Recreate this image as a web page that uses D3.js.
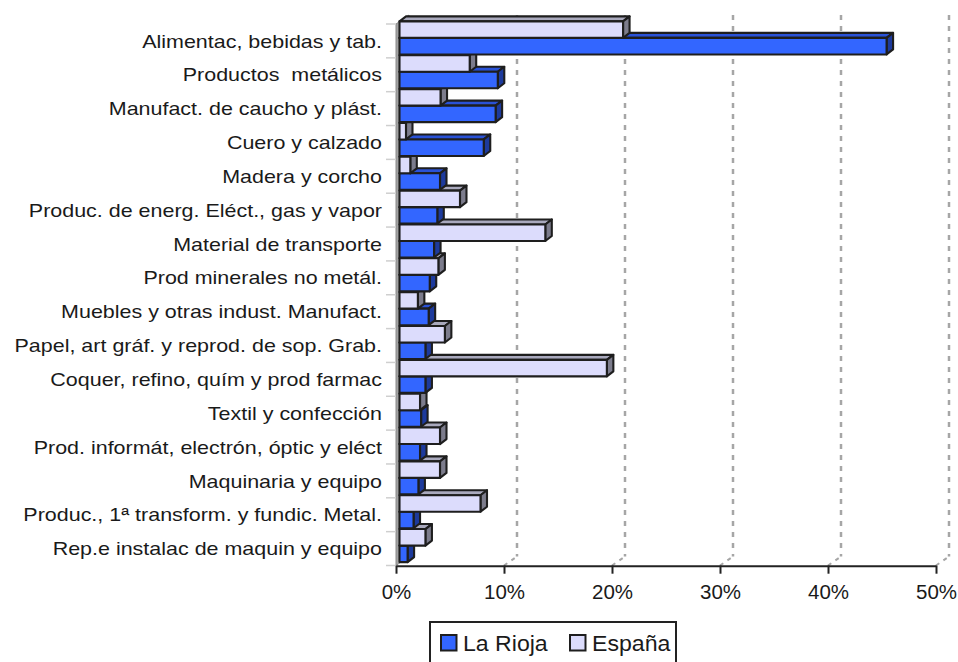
<!DOCTYPE html>
<html>
<head>
<meta charset="utf-8">
<script src="https://cdn.jsdelivr.net/npm/d3@7"></script>
<style>
  body { margin: 0; background: #fff; }
  text { font-family: "Liberation Sans", Arial, Helvetica, sans-serif; fill: #1a1a1a; }
</style>
</head>
<body>
<div id="chart"></div>
<script>
// sectors, top to bottom
const categories = [
    "Alimentac, bebidas y tab.",
    "Productos  metálicos",
    "Manufact. de caucho y plást.",
    "Cuero y calzado",
    "Madera y corcho",
    "Produc. de energ. Eléct., gas y vapor",
    "Material de transporte",
    "Prod minerales no metál.",
    "Muebles y otras indust. Manufact.",
    "Papel, art gráf. y reprod. de sop. Grab.",
    "Coquer, refino, quím y prod farmac",
    "Textil y confección",
    "Prod. informát, electrón, óptic y eléct",
    "Maquinaria y equipo",
    "Produc., 1ª transform. y fundic. Metal.",
    "Rep.e instalac de maquin y equipo"
]

const laRioja = [45.1, 9.1, 8.9, 7.8, 3.75, 3.5, 3.2, 2.8, 2.7, 2.4, 2.4, 2.0, 1.9, 1.75, 1.3, 0.75]
const espana = [20.7, 6.5, 3.8, 0.6, 1.0, 5.6, 13.5, 3.6, 1.7, 4.2, 19.2, 1.9, 3.75, 3.75, 7.5, 2.4]

const series = ["La Rioja", "España"]
const xTicks = [0, 10, 20, 30, 40, 50]

const width = 958
const height = 662

// plot front plane
const x = d3.scaleLinear().domain([0, 50]).range([396, 936])
const y = d3.scaleBand().domain(categories).range([24, 565.5])
// España sits above La Rioja inside each band
const ySub = d3.scaleBand().domain(["España", "La Rioja"]).range([0.4, y.bandwidth() - 0.4])

// 3d offsets
const wallDepth = [13, -9]
const barFront = [3.5, -3]
const barDepth = [6.5, -5]

const colors = {
    "La Rioja": { front: "#3366ff", top: "#2a52d6", side: "#1d3a9c" },
    "España": { front: "#dcdcfc", top: "#a9a9bd", side: "#7c7c8c" }
}

const svg = d3.select("#chart")
    .append("svg")
    .attr("width", width)
    .attr("height", height)

const yTop = y.range()[0]
const yBot = y.range()[1]

// gridlines on back wall + floor
const grid = svg.append("g")
xTicks.filter(d => d > 0).forEach(v => {
    grid.append("line")
        .attr("x1", x(v) + wallDepth[0]).attr("x2", x(v) + wallDepth[0])
        .attr("y1", yTop + wallDepth[1]).attr("y2", yBot + wallDepth[1])
        .attr("stroke", "#a6a6a6").attr("stroke-width", 2.5)
        .attr("stroke-dasharray", "5,6")
    grid.append("line")
        .attr("x1", x(v)).attr("y1", yBot)
        .attr("x2", x(v) + wallDepth[0]).attr("y2", yBot + wallDepth[1])
        .attr("stroke", "#a6a6a6").attr("stroke-width", 2)
        .attr("stroke-dasharray", "4,5")
})

// left wall
svg.append("path")
    .attr("d", `M${x(0)},${yBot} L${x(0) + wallDepth[0]},${yBot + wallDepth[1]} L${x(0) + wallDepth[0]},${yTop + wallDepth[1]} L${x(0)},${yTop} Z`)
    .attr("fill", "#a3a3a3")
    .attr("stroke", "#8a8a8a")
    .attr("stroke-width", 1)

// category tick marks at band edges
const edges = categories.map(c => y(c)).concat([yBot])
svg.append("g")
    .selectAll("line")
    .data(edges)
    .enter().append("line")
    .attr("x1", 386).attr("x2", x(0))
    .attr("y1", d => d).attr("y2", d => d)
    .attr("stroke", "#cfcfcf").attr("stroke-width", 1.5)

// bars, drawn from the bottom up so the upper front faces cover lower tops
const barData = []
for (let i = categories.length - 1; i >= 0; i--) {
    barData.push({ cat: categories[i], name: "La Rioja", value: laRioja[i] })
    barData.push({ cat: categories[i], name: "España", value: espana[i] })
}

const bars = svg.append("g")
    .selectAll("g")
    .data(barData)
    .enter().append("g")
    .attr("stroke", "#1e1e1e")
    .attr("stroke-width", 2.1)
    .attr("stroke-linejoin", "round")

bars.each(function (d) {
    const g = d3.select(this)
    const x0 = x(0) + barFront[0]
    const x1 = x(d.value) + barFront[0]
    const y0 = y(d.cat) + ySub(d.name) + barFront[1]
    const h = ySub.bandwidth()
    const dx = barDepth[0], dy = barDepth[1]
    g.append("path")
        .attr("d", `M${x0},${y0} L${x0 + dx},${y0 + dy} L${x1 + dx},${y0 + dy} L${x1},${y0} Z`)
        .attr("fill", colors[d.name].top)
    g.append("path")
        .attr("d", `M${x1},${y0} L${x1 + dx},${y0 + dy} L${x1 + dx},${y0 + h + dy} L${x1},${y0 + h} Z`)
        .attr("fill", colors[d.name].side)
    g.append("rect")
        .attr("x", x0).attr("y", y0)
        .attr("width", x1 - x0).attr("height", h)
        .attr("fill", colors[d.name].front)
})

// category labels
const yAxis = svg.append("g")
    .attr("transform", `translate(${x(0)},0)`)
    .call(d3.axisLeft(y).tickSize(0).tickPadding(0))
yAxis.select(".domain").remove()
yAxis.selectAll("text")
    .attr("x", -14 / 1.13)
    .attr("dy", "0.35em")
    .attr("transform", "scale(1.13,1)")
    .style("font-size", "19px")
    .style("white-space", "pre")
    .attr("fill", "#1a1a1a")
    .attr("font-family", null)

// x axis
const xAxis = svg.append("g")
    .attr("transform", `translate(0,${yBot + 0.2})`)
    .call(d3.axisBottom(x).tickValues(xTicks).tickFormat(d => d + "%").tickSize(8).tickSizeOuter(0).tickPadding(11))
xAxis.select(".domain").attr("stroke", "#222").attr("stroke-width", 2)
xAxis.selectAll(".tick line").attr("stroke", "#222").attr("stroke-width", 2)
xAxis.selectAll("text")
    .style("font-size", "20.5px")
    .attr("fill", "#1a1a1a")
    .attr("font-family", null)

// legend
const legend = svg.append("g")
legend.append("rect")
    .attr("x", 430).attr("y", 622)
    .attr("width", 246).attr("height", 60)
    .attr("fill", "#fff")
    .attr("stroke", "#222").attr("stroke-width", 2)

const legendX = [441, 570]
series.forEach((s, i) => {
    legend.append("rect")
        .attr("x", legendX[i]).attr("y", 635)
        .attr("width", 15.5).attr("height", 15.5)
        .attr("fill", colors[s].front)
        .attr("stroke", "#1e1e1e").attr("stroke-width", 2)
    legend.append("text")
        .attr("transform", `translate(${legendX[i] + 22},651) scale(1.05,1)`)
        .style("font-size", "22px")
        .text(s)
})
</script>
</body>
</html>
